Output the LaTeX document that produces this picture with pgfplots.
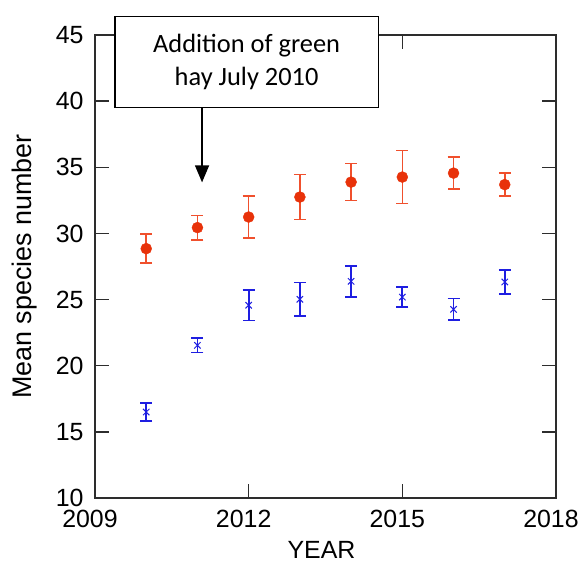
\documentclass[border=0pt]{standalone}
\usepackage{pgfplots}
\pgfplotsset{compat=1.18}
\usepackage{pgfplotstable}
\usepackage{fontspec}
\setmainfont{Liberation Sans}
\newfontfamily\calibri{Carlito}
\usetikzlibrary{arrows.meta}

\definecolor{hayred}{RGB}{232,50,10}
\definecolor{hayredbar}{RGB}{240,80,45}
\definecolor{hayblue}{RGB}{30,30,225}
\definecolor{axisgray}{RGB}{45,45,45}

% hay added plots
\pgfplotstableread{
year mean err
2010 28.85 1.10
2011 30.44 0.93
2012 31.24 1.60
2013 32.75 1.70
2014 33.88 1.40
2015 34.26 2.00
2016 34.56 1.20
2017 33.69 0.88
}\hayplots

% control plots
\pgfplotstableread{
year mean err
2010 16.50 0.69
2011 21.54 0.55
2012 24.57 1.16
2013 25.02 1.28
2014 26.38 1.17
2015 25.19 0.76
2016 24.26 0.82
2017 26.33 0.93
}\controlplots

\begin{document}
\begin{tikzpicture}
\useasboundingbox (-95bp,-66bp) rectangle (487bp,498bp);
\begin{axis}[
    at={(0,0)}, anchor=south west,
    scale only axis,
    width=461bp, height=463bp,
    xmin=2009, xmax=2018,
    ymin=10, ymax=45,
    xtick={2009,2012,2015,2018},
    ytick={10,15,...,45},
    tick align=inside,
    major tick length=14bp,
    axis line style={axisgray, line width=1.2bp},
    tick style={axisgray, line width=1.3bp},
    tick label style={font=\fontsize{25}{28}\selectfont},
    yticklabel style={xshift=-8bp},
    xticklabel style={yshift=-9bp, xshift=-5bp},
    /pgf/number format/assume math mode=true,
    /pgf/number format/1000 sep={},
    xlabel={YEAR},
    xlabel style={at={(axis description cs:0.5,0)}, anchor=center,
        xshift=-4bp, yshift=-52bp, font=\fontsize{25}{28}\selectfont},
    ylabel={Mean species number},
    ylabel style={at={(axis description cs:-0.152,0.5)}, anchor=center,
        font=\fontsize{27}{30}\selectfont},
    clip=false,
]

% annotation
\draw[black, line width=1.5bp, fill=white]
    (axis cs:2009.39,46.4) rectangle (axis cs:2014.53,39.53);
\node[align=center, font=\calibri\fontsize{26.5}{33}\selectfont]
    at (axis cs:2011.96,42.95) {Addition of green\\hay July 2010};
\draw[-{Triangle[width=14bp,length=17bp]}, line width=1.5bp]
    (axis cs:2011.09,39.45) -- (axis cs:2011.09,33.86);

\addplot[only marks, mark=*, mark size=5.5bp, color=hayred,
    error bars/.cd, y dir=both, y explicit,
    error bar style={hayredbar, line width=1.6bp},
    error mark options={rotate=90, hayredbar, mark size=6bp, line width=1.6bp}]
    table[x=year, y=mean, y error=err] {\hayplots};

\addplot[only marks, mark=x, mark size=4.5bp, color=hayblue,
    mark options={line width=1bp},
    error bars/.cd, y dir=both, y explicit,
    error bar style={line width=1.7bp},
    error mark options={rotate=90, mark size=6bp, line width=1.7bp}]
    table[x=year, y=mean, y error=err] {\controlplots};

\end{axis}
\end{tikzpicture}
\end{document}
